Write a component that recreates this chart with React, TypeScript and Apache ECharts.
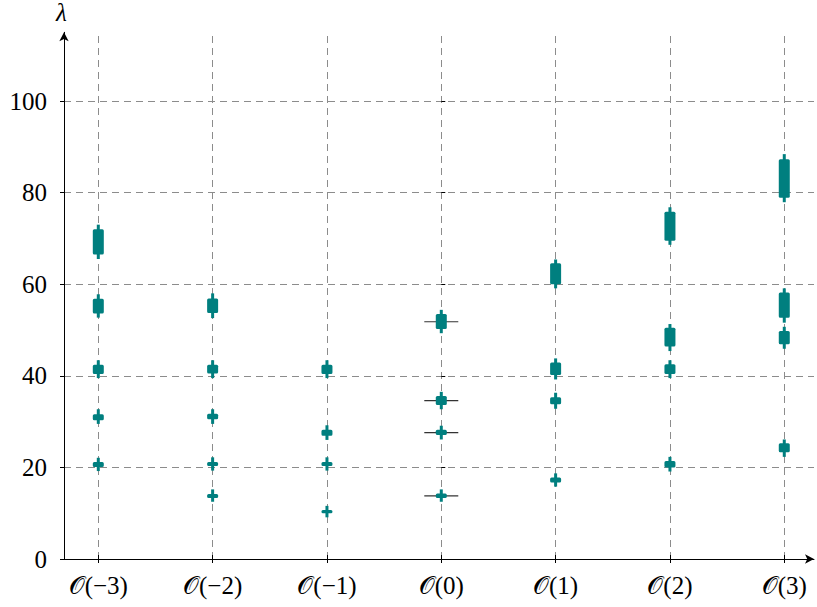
import React, { useEffect, useRef } from "react";
import * as echarts from "echarts";

const categories = ["𝒪(−3)", "𝒪(−2)", "𝒪(−1)", "𝒪(0)", "𝒪(1)", "𝒪(2)", "𝒪(3)"];
const categoryPositions = [-3, -2, -1, 0, 1, 2, 3];
const yTicks = [0, 20, 40, 60, 80, 100];

// each entry: [boxLow, boxHigh, whiskerLow, whiskerHigh]
const groupM3 = [
  [66.5, 72.0, 65.5, 73.0],
  [53.6, 56.8, 52.7, 57.8],
  [40.4, 42.4, 39.5, 43.4],
  [30.3, 31.6, 29.5, 32.7],
  [20.1, 21.2, 19.2, 22.1],
];
const groupM2 = [
  [53.7, 56.9, 52.6, 58.0],
  [40.5, 42.4, 39.5, 43.4],
  [30.5, 31.7, 29.5, 32.7],
  [20.3, 21.2, 19.3, 22.2],
  [13.3, 14.2, 12.5, 15.2],
];
const groupM1 = [
  [40.4, 42.4, 39.5, 43.4],
  [26.9, 28.2, 26.0, 29.2],
  [20.3, 21.2, 19.3, 22.2],
  [10.0, 10.7, 9.1, 11.6],
];
const group0 = [
  [50.2, 53.5, 49.3, 54.4],
  [33.6, 35.6, 32.7, 36.5],
  [27.1, 28.2, 26.1, 29.1],
  [13.3, 14.3, 12.5, 15.2],
];
const groupP1 = [
  [60.0, 64.6, 59.1, 65.4],
  [40.2, 42.9, 39.2, 43.8],
  [33.8, 35.3, 32.8, 36.3],
  [16.7, 17.8, 15.8, 18.7],
];
const groupP2 = [
  [69.5, 75.8, 68.6, 76.8],
  [46.4, 50.5, 45.4, 51.3],
  [40.4, 42.5, 39.5, 43.4],
  [20.0, 21.4, 19.1, 22.3],
];
const groupP3 = [
  [78.9, 87.3, 77.9, 88.4],
  [52.7, 58.2, 51.6, 59.1],
  [46.9, 49.8, 45.9, 50.7],
  [23.3, 25.3, 22.3, 26.1],
];
const groups = [groupM3, groupM2, groupM1, group0, groupP1, groupP2, groupP3];

// reference levels drawn at O(0)
const referenceX = 0;
const referenceO0 = [51.8, 34.6, 27.6, 13.8];

const TEAL = "#007f7f";
const FONT = "Liberation Serif, DejaVu Serif, serif";
const X_MIN = -3.3;
const X_MAX = 3.26;
const Y_MIN = 0;
const Y_MAX = 115;

export default function App() {
  const ref = useRef<HTMLDivElement>(null);

  useEffect(() => {
    if (!ref.current) return;
    const chart = echarts.init(ref.current, null, { renderer: "svg" });

    const candleData: number[][] = [];
    groups.forEach((g, i) => {
      g.forEach((d) => candleData.push([categoryPositions[i], d[0], d[1], d[2], d[3]]));
    });

    const axisX = (extra: any) => ({
      type: "value",
      min: X_MIN,
      max: X_MAX,
      position: "bottom",
      splitLine: { show: false },
      z: 4,
      ...extra,
    });
    const axisY = (extra: any) => ({
      type: "value",
      min: Y_MIN,
      max: Y_MAX,
      position: "left",
      splitLine: { show: false },
      z: 4,
      ...extra,
    });

    const option: any = {
      animation: false,
      backgroundColor: "#ffffff",
      grid: {
        left: 64,
        right: 3,
        top: 32.3,
        bottom: 48,
        containLabel: false,
        outerBoundsMode: "none",
      },
      xAxis: [
        axisX({
          axisLine: {
            show: true,
            onZero: false,
            symbol: ["none", "arrow"],
            symbolSize: [7, 9],
            lineStyle: { color: "#000", width: 1 },
          },
          axisTick: {
            show: true,
            inside: false,
            length: 4,
            customValues: categoryPositions,
            lineStyle: { color: "#000", width: 1 },
          },
          axisLabel: {
            customValues: categoryPositions,
            formatter: (v: number) => categories[Math.round(v) + 3],
            fontFamily: FONT,
            fontSize: 25,
            color: "#000",
            margin: 14,
          },
        }),
        axisX({
          axisLine: { show: false },
          axisTick: {
            show: true,
            inside: true,
            length: 4,
            customValues: categoryPositions,
            lineStyle: { color: "#000", width: 1 },
          },
          axisLabel: { show: false },
        }),
      ],
      yAxis: [
        axisY({
          axisLine: {
            show: true,
            onZero: false,
            symbol: ["none", "arrow"],
            symbolSize: [7, 9],
            lineStyle: { color: "#000", width: 1 },
          },
          axisTick: {
            show: true,
            inside: false,
            length: 4,
            customValues: yTicks,
            lineStyle: { color: "#000", width: 1 },
          },
          axisLabel: {
            customValues: yTicks,
            fontFamily: FONT,
            fontSize: 25,
            color: "#000",
            margin: 17,
          },
        }),
        axisY({
          axisLine: { show: false },
          axisTick: {
            show: true,
            inside: true,
            length: 4,
            customValues: yTicks,
            lineStyle: { color: "#000", width: 1 },
          },
          axisLabel: { show: false },
        }),
      ],
      graphic: [
        {
          type: "text",
          left: 56,
          top: 0,
          style: {
            text: "λ",
            font: "italic 25px " + FONT,
            fill: "#000",
          },
        },
      ],
      series: [
        {
          type: "line",
          data: [],
          silent: true,
          z: 1,
          markLine: {
            silent: true,
            animation: false,
            z: 1,
            symbol: ["none", "none"],
            label: { show: false },
            lineStyle: { color: "#8c8c8c", type: [7, 5], width: 1 },
            emphasis: { disabled: true },
            data: [
              ...yTicks.filter((v) => v > 0).map((v) => ({ yAxis: v })),
              ...categoryPositions.map((v) => ({ xAxis: v })),
            ],
          },
        },
        {
          type: "custom",
          z: 2,
          silent: true,
          data: referenceO0.map((v) => [referenceX, v]),
          encode: { x: 0, y: 1 },
          renderItem: (_p: any, api: any) => {
            const c = api.coord([api.value(0), api.value(1)]);
            return {
              type: "line",
              shape: { x1: c[0] - 17, y1: c[1], x2: c[0] + 17, y2: c[1] },
              style: { stroke: "#333", lineWidth: 1.2 },
            };
          },
        },
        {
          type: "custom",
          z: 3,
          silent: true,
          data: candleData,
          encode: { x: 0, y: [1, 2, 3, 4] },
          renderItem: (_p: any, api: any) => {
            const x = api.value(0);
            const b1 = api.coord([x, api.value(1)]);
            const b2 = api.coord([x, api.value(2)]);
            const w1 = api.coord([x, api.value(3)]);
            const w2 = api.coord([x, api.value(4)]);
            return {
              type: "group",
              children: [
                {
                  type: "rect",
                  shape: { x: w2[0] - 1.5, y: w2[1], width: 3, height: w1[1] - w2[1] },
                  style: { fill: TEAL },
                },
                {
                  type: "rect",
                  shape: { x: b2[0] - 5.5, y: b2[1], width: 11, height: b1[1] - b2[1], r: 1.5 },
                  style: { fill: TEAL },
                },
              ],
            };
          },
        },
      ],
    };

    chart.setOption(option);
    return () => chart.dispose();
  }, []);

  return (
    <div
      ref={ref}
      style={{ position: "fixed", left: 0, top: 0, width: 817, height: 607, background: "#fff" }}
    />
  );
}
